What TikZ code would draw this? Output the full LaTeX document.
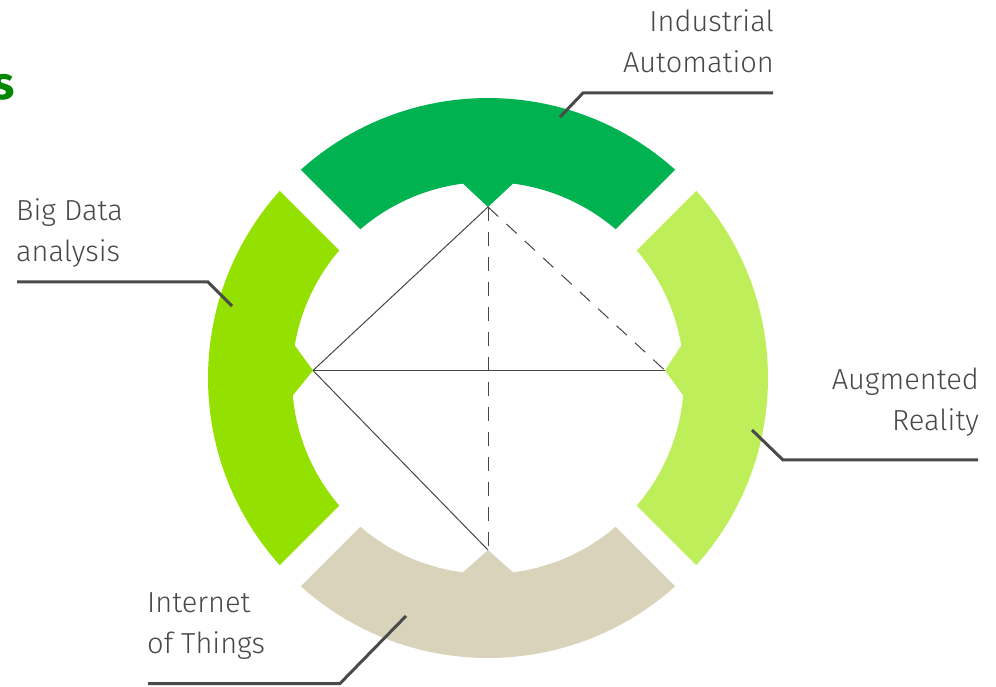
\documentclass[tikz,border=0pt]{standalone}
\usepackage{fontspec}
\newfontfamily\labfont{Fira Sans Light}
\newfontfamily\ttlfont{Fira Sans}
\definecolor{segtop}{RGB}{0,179,80}
\definecolor{segleft}{RGB}{148,224,0}
\definecolor{segright}{RGB}{190,238,90}
\definecolor{segbot}{RGB}{217,211,187}
\definecolor{labgray}{RGB}{72,72,72}
\definecolor{leadgray}{RGB}{74,74,74}
\definecolor{linegray}{RGB}{70,70,70}
\definecolor{ttlgreen}{RGB}{0,135,0}
\tikzset{
  lab/.style={font=\labfont\fontsize{29}{41}\selectfont, text=labgray, inner sep=0pt},
  leader/.style={draw=leadgray, line width=3pt},
  tri/.style={draw=linegray, line width=1pt},
  tridash/.style={draw=linegray, line width=1pt, dash pattern=on 14pt off 11pt},
}
\begin{document}
\begin{tikzpicture}
\useasboundingbox (0pt,0pt) rectangle (996pt,686pt);
% ring segments
\begin{scope}[shift={(488pt,308pt)}]
  \fill[segtop] (48.07:280pt) arc[start angle=48.07, end angle=131.93, radius=280pt]
    -- (130.61:196pt) arc[start angle=130.61, end angle=97.33, radius=196pt]
    -- (0pt,171pt) -- (82.67:196pt) arc[start angle=82.67, end angle=49.39, radius=196pt] -- cycle;
  \fill[segleft] (138.07:280pt) arc[start angle=138.07, end angle=221.93, radius=280pt]
    -- (220.61:196pt) arc[start angle=220.61, end angle=185.12, radius=196pt]
    -- (-175pt,7.5pt) -- (170.45:196pt) arc[start angle=170.45, end angle=139.39, radius=196pt] -- cycle;
  \fill[segbot] (228.07:280pt) arc[start angle=228.07, end angle=311.93, radius=280pt]
    -- (310.61:196pt) arc[start angle=310.61, end angle=277.33, radius=196pt]
    -- (0pt,-172pt) -- (262.67:196pt) arc[start angle=262.67, end angle=229.39, radius=196pt] -- cycle;
  \fill[segright] (-41.93:280pt) arc[start angle=-41.93, end angle=41.93, radius=280pt]
    -- (40.61:196pt) arc[start angle=40.61, end angle=9.55, radius=196pt]
    -- (177pt,7.5pt) -- (-5.12:196pt) arc[start angle=-5.12, end angle=-40.61, radius=196pt] -- cycle;
  \coordinate (tT) at (0pt,171pt);
  \coordinate (tB) at (0pt,-172pt);
  \coordinate (tL) at (-175pt,7.5pt);
  \coordinate (tR) at (177pt,7.5pt);
\end{scope}
% inner figure
\draw[tri] (tL) -- (tT);
\draw[tri] (tL) -- (tB);
\draw[tri, line width=1.4pt] (tL) -- (tR);
\draw[tridash] (tT) -- (tB);
\draw[tridash] (tT) -- (tR);
% title fragment
\node[font=\ttlfont\bfseries\fontsize{46}{46}\selectfont, text=ttlgreen, anchor=base east, inner sep=0pt] (ttl) at (15pt,586pt) {s};
% labels
\node[lab, align=right, anchor=north east] (ia) at (774pt,677pt) {Industrial\\Automation};
\node[lab, align=left, anchor=north west] (bd) at (16pt,488pt) {Big Data\\analysis};
\node[lab, align=right, anchor=north east] (ar) at (979pt,318pt) {Augmented\\Reality};
\node[lab, align=left, anchor=north west] (iot) at (147pt,94pt) {Internet\\of Things};
% leader lines
\coordinate (ia1) at (773pt,593pt); \coordinate (ia2) at (583pt,593pt); \coordinate (ia3) at (560pt,569pt);
\coordinate (bd1) at (17pt,404pt); \coordinate (bd2) at (208pt,404pt); \coordinate (bd3) at (232pt,380pt);
\coordinate (ar1) at (978pt,226pt); \coordinate (ar2) at (783pt,226pt); \coordinate (ar3) at (752pt,256pt);
\coordinate (io1) at (148pt,2.5pt); \coordinate (io2) at (340pt,2.5pt); \coordinate (io3) at (406pt,70pt);
\draw[leader] (ia1) -- (ia2) -- (ia3);
\draw[leader] (bd1) -- (bd2) -- (bd3);
\draw[leader] (ar1) -- (ar2) -- (ar3);
\draw[leader] (io1) -- (io2) -- (io3);
\end{tikzpicture}
\end{document}
